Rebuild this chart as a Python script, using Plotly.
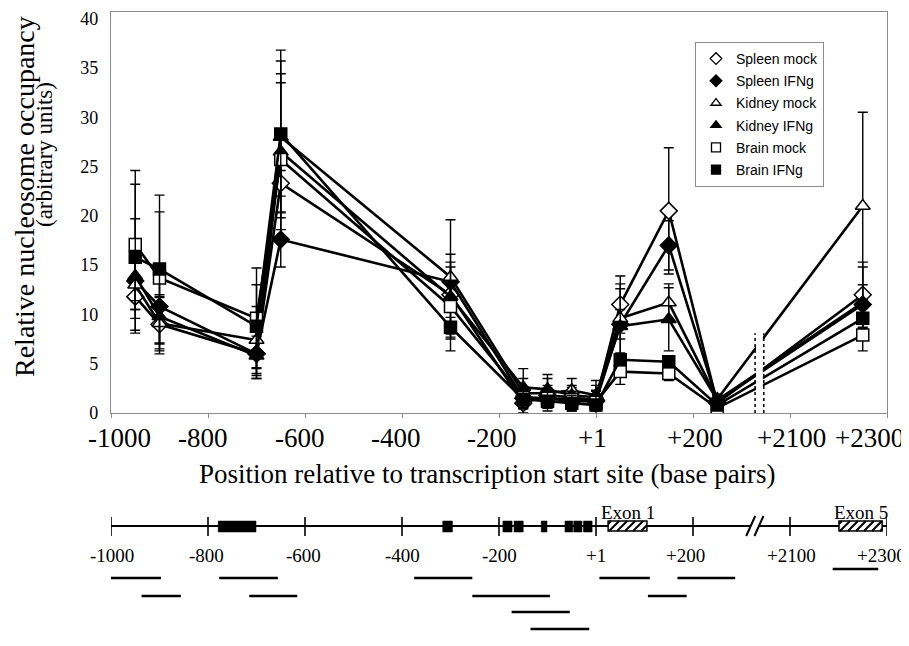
import plotly.graph_objects as go

# ---------------- data ----------------
positions_bp = [-950, -900, -700, -650, -300, -150, -100, -50, 0, 50, 150, 250, 2250]

spleen_mock = [11.8, 9.0, 6.0, 23.3, 12.0, 1.0, 1.8, 1.6, 1.3, 11.0, 20.5, 1.0, 12.0]
spleen_ifng = [13.4, 10.8, 6.0, 17.6, 13.3, 1.5, 1.5, 1.2, 1.2, 9.0, 17.0, 1.2, 11.0]
kidney_mock = [13.0, 9.1, 7.4, 28.0, 13.8, 2.0, 2.0, 2.3, 1.8, 9.6, 11.2, 1.4, 21.0]
kidney_ifng = [13.9, 9.8, 5.8, 26.5, 11.8, 2.6, 2.4, 1.8, 1.6, 8.8, 9.5, 1.3, 11.2]
brain_mock = [17.1, 13.7, 9.6, 25.7, 10.8, 1.6, 1.5, 1.4, 1.1, 4.2, 4.0, 0.5, 7.9]
brain_ifng = [15.8, 14.6, 8.8, 28.3, 8.7, 1.4, 1.2, 1.0, 0.8, 5.4, 5.2, 0.8, 9.6]

spleen_mock_err = [1.3, 3.0, 2.5, 1.3, 1.5, 1.0, 1.0, 1.0, 1.0, 2.9, 6.4, 0.5, 3.3]
spleen_ifng_err = [2.0, 1.0, 2.5, 2.8, 1.5, 1.0, 1.0, 1.0, 1.0, 1.5, 2.5, 0.5, 2.0]
kidney_mock_err = [2.5, 2.6, 3.4, 7.7, 5.8, 1.5, 1.5, 1.2, 1.5, 3.5, 1.9, 0.5, 9.5]
kidney_ifng_err = [5.8, 3.5, 2.0, 7.9, 4.3, 1.9, 1.5, 1.0, 1.2, 3.8, 3.2, 0.5, 3.6]
brain_mock_err = [7.5, 6.7, 5.1, 7.8, 4.5, 1.0, 1.0, 0.8, 0.8, 1.3, 0.7, 0.3, 1.6]
brain_ifng_err = [7.4, 7.5, 4.2, 8.5, 1.0, 1.0, 1.0, 0.8, 1.0, 0.5, 0.5, 0.5, 1.0]

series_names = ["Spleen mock", "Spleen IFNg", "Kidney mock", "Kidney IFNg", "Brain mock", "Brain IFNg"]

tick_bp = [-1000, -800, -600, -400, -200, 0, 200, 2100, 2300]
tick_text = ["-1000", "-800", "-600", "-400", "-200", "+1", "+200", "+2100", "+2300"]

# promoter map (bp)
site_boxes_bp = [(-779, -701), (-316, -296), (-192, -173), (-169, -150), (-113, -101),
                 (-64, -48), (-46, -29), (-26, -8)]
exon_names = ["Exon 1", "Exon 5"]
exon_bp = [(25, 105), (2201, 2290)]
amplicon_bp = [(-1018, -897), (-777, -656), (-375, -255), (7, 111), (168, 287),
               (2188, 2282),
               (-937, -856), (-715, -616), (-255, -95), (107, 187),
               (-174, -54),
               (-135, -14)]
amplicon_row = [1, 1, 1, 1, 1, 0, 2, 2, 2, 2, 3, 4]

# ---------------- helpers ----------------
# the page body has an 8px margin: the figure is drawn 8px in from the window corner
PAGE_OFF = 8
WIN_W, WIN_H = 909, 646
PLOT_L, PLOT_R, PLOT_T, PLOT_B = 111, 887, 12, 640   # plot area in window pixels
FIG_W, FIG_H = WIN_W - PAGE_OFF, WIN_H - PAGE_OFF
ML, MT = PLOT_L - PAGE_OFF, PLOT_T - PAGE_OFF
MR, MB = WIN_W - PLOT_R, WIN_H - PLOT_B
PW, PH = PLOT_R - PLOT_L, PLOT_B - PLOT_T
SERIF = "Liberation Serif, Times New Roman, serif"
SANS = "Liberation Sans, Arial, sans-serif"


def axpos(bp):
    """broken axis: 2100 -> 400, 2300 -> 600"""
    return bp if bp < 1000 else bp - 1700


def px_x(px):
    return (px - PLOT_L) / PW


def px_y(px):
    return (PLOT_B - px) / PH


C_PER_PX = 1600 / PW

xs = [axpos(b) for b in positions_bp]

styles = [
    dict(symbol="diamond", color="white", size=13),
    dict(symbol="diamond", color="black", size=13),
    dict(symbol="triangle-up", color="white", size=13),
    dict(symbol="triangle-up", color="black", size=13),
    dict(symbol="square", color="white", size=12),
    dict(symbol="square", color="black", size=12),
]
values = [spleen_mock, spleen_ifng, kidney_mock, kidney_ifng, brain_mock, brain_ifng]
errs = [spleen_mock_err, spleen_ifng_err, kidney_mock_err, kidney_ifng_err, brain_mock_err, brain_ifng_err]

fig = go.Figure()
for name, st, v, e in zip(series_names, styles, values, errs):
    fig.add_trace(go.Scatter(
        x=xs, y=v, mode="lines+markers", name=name, showlegend=False,
        line=dict(color="black", width=2.6),
        marker=dict(symbol=st["symbol"], color=st["color"], size=st["size"],
                    line=dict(color="black", width=1.5)),
        error_y=dict(type="data", array=e, color="black", thickness=1.4, width=5),
    ))
for i, (name, st) in enumerate(zip(series_names, styles)):
    fig.add_trace(go.Scatter(
        x=[None], y=[None], mode="markers", name=name, legendgroup=f"g{i}",
        marker=dict(symbol=st["symbol"], color=st["color"], size=9,
                    line=dict(color="black", width=1.3)),
    ))

shapes = []
annotations = []

# axis break in the chart
brk_left, brk_right = axpos(2028), axpos(2046)
shapes.append(dict(type="rect", xref="x", yref="y", x0=brk_left + 2, x1=brk_right - 2, y0=0.12, y1=8.1,
                   fillcolor="white", line=dict(width=0), layer="above"))
for bx in (brk_left, brk_right):
    shapes.append(dict(type="line", xref="x", yref="y", x0=bx, x1=bx, y0=0, y1=8.1,
                       line=dict(color="black", width=1.5, dash="dot"), layer="above"))

# x tick labels (annotations so that first/last can sit at the edges)
label_shift = [8, -5, -5, -6, -7, -4, 2, 1, -18]
for b, t, s in zip(tick_bp, tick_text, label_shift):
    annotations.append(dict(x=axpos(b), xref="x", y=px_y(438), yref="paper", text=t, showarrow=False,
                            xanchor="center", yanchor="middle", xshift=s,
                            font=dict(family=SERIF, size=27, color="black")))

# axis titles
annotations.append(dict(x=px_x(487), y=px_y(474), xref="paper", yref="paper", showarrow=False,
                        text="Position relative to transcription start site (base pairs)",
                        font=dict(family=SERIF, size=27, color="black"), xanchor="center", yanchor="middle"))
annotations.append(dict(x=px_x(24), y=px_y(197), xref="paper", yref="paper", showarrow=False, textangle=-90,
                        text="Relative nucleosome occupancy",
                        font=dict(family=SERIF, size=28, color="black"), xanchor="center", yanchor="middle"))
annotations.append(dict(x=px_x(44), y=px_y(155), xref="paper", yref="paper", showarrow=False, textangle=-90,
                        text="(arbitrary units)",
                        font=dict(family=SERIF, size=23, color="black"), xanchor="center", yanchor="middle"))

# ---------------- promoter map (y2 is in window pixel rows) ----------------
MAP_Y = 526
gap_a, gap_b = axpos(2019), axpos(2036)
shapes.append(dict(type="line", xref="x", yref="y2", x0=-1000, x1=gap_a, y0=MAP_Y, y1=MAP_Y,
                   line=dict(color="black", width=2)))
shapes.append(dict(type="line", xref="x", yref="y2", x0=gap_b, x1=600, y0=MAP_Y, y1=MAP_Y,
                   line=dict(color="black", width=2)))
for cx in (gap_a, gap_b):
    shapes.append(dict(type="line", xref="x", yref="y2", x0=cx - 4.5 * C_PER_PX, x1=cx + 4.5 * C_PER_PX,
                       y0=536, y1=516, line=dict(color="black", width=2)))
for b in tick_bp:
    shapes.append(dict(type="line", xref="x", yref="y2", x0=axpos(b), x1=axpos(b), y0=517, y1=536,
                       line=dict(color="black", width=1.6)))
for a, b in site_boxes_bp:
    shapes.append(dict(type="rect", xref="x", yref="y2", x0=axpos(a), x1=axpos(b), y0=521, y1=532,
                       fillcolor="black", line=dict(color="black", width=0.5)))
for name, (a, b) in zip(exon_names, exon_bp):
    x0, x1 = axpos(a), axpos(b)
    shapes.append(dict(type="rect", xref="x", yref="y2", x0=x0, x1=x1, y0=521, y1=531,
                       fillcolor="white", line=dict(color="black", width=1.5)))
    # hatching
    h = 10 * C_PER_PX
    start = x0 - h + 3 * C_PER_PX
    while start < x1:
        bx0, tx0 = start, start + h
        ya, yb = 531, 521
        if bx0 < x0:
            ya = 531 - (x0 - bx0) / h * 10
            bx0 = x0
        if tx0 > x1:
            yb = 521 + (tx0 - x1) / h * 10
            tx0 = x1
        if tx0 > bx0:
            shapes.append(dict(type="line", xref="x", yref="y2", x0=bx0, x1=tx0, y0=ya, y1=yb,
                               line=dict(color="black", width=2)))
        start += 8 * C_PER_PX
    annotations.append(dict(x=(x0 + x1) / 2, xref="x", y=512, yref="y2", text=name, showarrow=False,
                            xanchor="center", yanchor="middle",
                            font=dict(family=SERIF, size=19, color="black")))

map_label_shift = [1, -2, -2, 0, 0, 0, -8, 1, -6]
for b, t, s in zip(tick_bp, tick_text, map_label_shift):
    annotations.append(dict(x=axpos(b), xref="x", y=555, yref="y2", text=t, showarrow=False,
                            xanchor="center", yanchor="middle", xshift=s,
                            font=dict(family=SERIF, size=19, color="black")))

row_y = [569, 578, 596, 612, 629]
for (a, b), r in zip(amplicon_bp, amplicon_row):
    shapes.append(dict(type="line", xref="x", yref="y2", x0=axpos(a), x1=axpos(b), y0=row_y[r], y1=row_y[r],
                       line=dict(color="black", width=2.6)))

fig.update_layout(
    width=FIG_W, height=FIG_H,
    margin=dict(l=ML, r=MR, t=MT, b=MB, autoexpand=False),
    paper_bgcolor="white", plot_bgcolor="white",
    xaxis=dict(range=[-1000, 600], domain=[0, 1], anchor="y", showline=True, linecolor="#8c8c8c",
               linewidth=1.3, mirror=True, ticks="outside", ticklen=4, tickcolor="#8c8c8c",
               tickvals=[axpos(b) for b in tick_bp], showticklabels=False, showgrid=False, zeroline=False),
    yaxis=dict(domain=[px_y(413), 1], range=[0, 40.67], tickvals=list(range(0, 41, 5)),
               showline=True, linecolor="#8c8c8c", linewidth=1.3, mirror=True, ticks="",
               showgrid=False, zeroline=False, ticklabelstandoff=8,
               tickfont=dict(family=SERIF, size=18, color="black")),
    yaxis2=dict(domain=[0, px_y(413)], range=[PLOT_B, 413], visible=False, anchor="x",
                showgrid=False, zeroline=False),
    legend=dict(x=px_x(824), xanchor="right", y=px_y(42), yanchor="top",
                bordercolor="#8c8c8c", borderwidth=1, bgcolor="white",
                font=dict(family=SANS, size=14, color="black"),
                tracegroupgap=1, itemsizing="trace", itemwidth=30),
    shapes=shapes, annotations=annotations,
)

fig.write_html("out.html")
